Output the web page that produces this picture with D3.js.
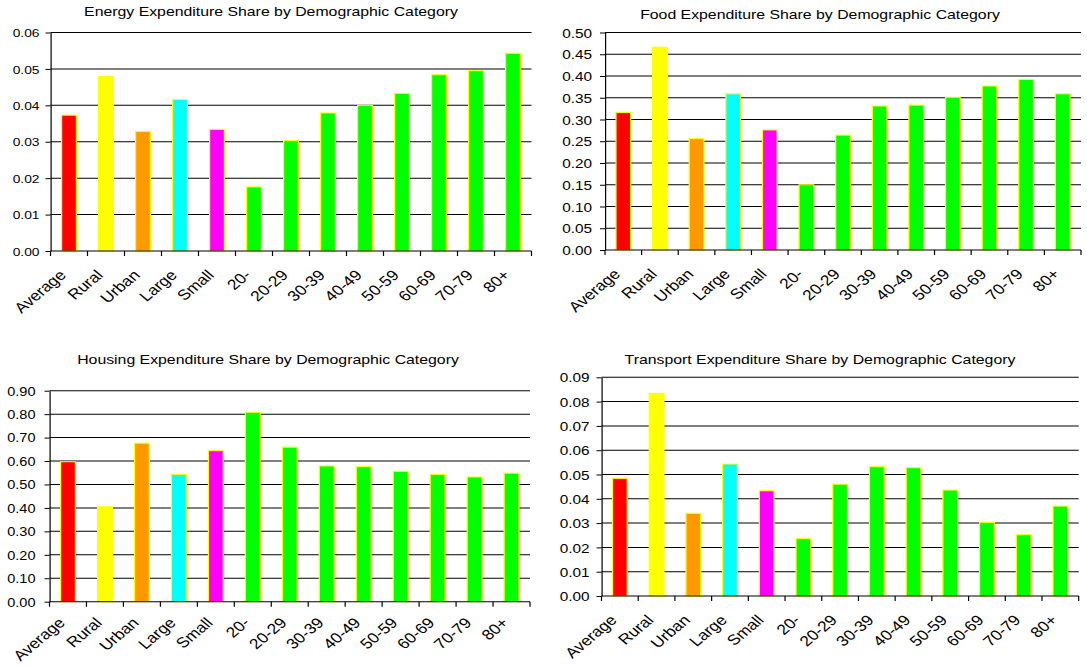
<!DOCTYPE html>
<html>
<head>
<meta charset="utf-8">
<script src="https://cdn.jsdelivr.net/npm/d3@7"></script>
<style>
  html, body { margin: 0; padding: 0; background: #fff; }
  svg { display: block; font-family: "Liberation Sans", Arial, sans-serif; }
</style>
</head>
<body>
<svg id="chart" width="1087" height="667"></svg>
<script>
// Demographic categories shared by all four panels
const categories = ["Average", "Rural", "Urban", "Large", "Small", "20-", "20-29",
                    "30-39", "40-49", "50-59", "60-69", "70-79", "80+"];

// Expenditure shares per category
const energyShare    = [0.0373, 0.0479, 0.0328, 0.0416, 0.0334, 0.0176, 0.0303,
                        0.0379, 0.0400, 0.0433, 0.0484, 0.0495, 0.0543];
const foodShare      = [0.316, 0.466, 0.256, 0.359, 0.276, 0.150, 0.264,
                        0.331, 0.333, 0.351, 0.377, 0.392, 0.359];
const housingShare   = [0.597, 0.405, 0.676, 0.543, 0.644, 0.808, 0.659,
                        0.579, 0.576, 0.556, 0.543, 0.532, 0.548];
const transportShare = [0.0484, 0.0834, 0.0340, 0.0543, 0.0433, 0.0236, 0.0460,
                        0.0532, 0.0528, 0.0436, 0.0303, 0.0252, 0.0370];

// Value-axis ticks
const energyTicks    = [0, 0.01, 0.02, 0.03, 0.04, 0.05, 0.06];
const foodTicks      = [0, 0.05, 0.10, 0.15, 0.20, 0.25, 0.30, 0.35, 0.40, 0.45, 0.50];
const housingTicks   = [0, 0.10, 0.20, 0.30, 0.40, 0.50, 0.60, 0.70, 0.80, 0.90];
const transportTicks = [0, 0.01, 0.02, 0.03, 0.04, 0.05, 0.06, 0.07, 0.08, 0.09];

// Fill colour per category (average, rural, urban, large, small, age groups)
const barColors = ["#ff0000", "#ffff00", "#ff9900", "#00ffff", "#ff00ff",
                   "#00ff00", "#00ff00", "#00ff00", "#00ff00", "#00ff00",
                   "#00ff00", "#00ff00", "#00ff00"];

// The whole sheet is drawn with a horizontal stretch (wide rendering).
const S = 1.2;
const svg = d3.select("#chart");
const root = svg.append("g").attr("transform", `scale(${S},1)`);
const sx = v => v / S;

function drawPanel(p) {
  const g = root.append("g");
  const x = d3.scaleBand().domain(categories).range([sx(p.x0), sx(p.x1)]).padding(0);
  const y = d3.scaleLinear().domain([0, d3.max(p.ticks)]).range([p.yBot, p.yTop]);
  const bw = x.bandwidth();
  const X0 = sx(p.x0), X1 = sx(p.x1);

  // horizontal gridlines
  g.selectAll("line.grid").data(p.ticks.filter(t => t > 0)).join("line")
    .attr("x1", X0).attr("x2", X1)
    .attr("y1", d => y(d)).attr("y2", d => y(d))
    .attr("stroke", "#000").attr("stroke-width", 1);

  // bars
  g.selectAll("rect.bar").data(p.values).join("rect")
    .attr("x", (d, i) => x(categories[i]) + bw * 0.3)
    .attr("width", bw * 0.4)
    .attr("y", d => y(d))
    .attr("height", d => y(0) - y(d))
    .attr("fill", (d, i) => barColors[i])
    .attr("stroke", "#ffff00").attr("stroke-width", 1);

  // value axis
  const yAxis = d3.axisLeft(y).tickValues(p.ticks).tickFormat(d3.format(".2f"))
    .tickSize(sx(5)).tickSizeOuter(0);
  const ya = g.append("g").attr("transform", `translate(${X0},0)`).call(yAxis);
  ya.select(".domain").attr("stroke", "#000");
  ya.selectAll(".tick line").attr("stroke", "#000");
  ya.selectAll(".tick text")
    .attr("x", -sx(p.labelGap)).attr("dy", "0.36em")
    .attr("font-size", p.tickFont).attr("fill", "#000")
    .attr("font-family", "Liberation Sans, Arial, sans-serif");

  // category axis: baseline and boundary ticks
  g.append("line")
    .attr("x1", X0).attr("x2", X1).attr("y1", y(0)).attr("y2", y(0))
    .attr("stroke", "#000");
  const bounds = categories.map(c => x(c)).concat([X1]);
  g.selectAll("line.xt").data(bounds).join("line")
    .attr("x1", d => d).attr("x2", d => d)
    .attr("y1", y(0)).attr("y2", y(0) + 5)
    .attr("stroke", "#000");

  // rotated category labels
  g.selectAll("text.cat").data(categories).join("text")
    .attr("text-anchor", "end")
    .attr("font-size", p.catFont)
    .attr("transform", c =>
      `translate(${x(c) + bw / 2 - sx(2)},${y(0) + p.catDrop}) rotate(-45)`)
    .text(c => c);

  // title
  g.append("text")
    .attr("text-anchor", "middle")
    .attr("font-size", 13.2)
    .attr("x", sx(p.titleX)).attr("y", p.titleY)
    .text(p.title);
}

drawPanel({
  title: "Energy Expenditure Share by Demographic Category",
  values: energyShare, ticks: energyTicks,
  x0: 50.5, x1: 531.5, yTop: 32.5, yBot: 251,
  titleX: 271, titleY: 16, tickFont: 11.5, labelGap: 11, catFont: 14.5, catDrop: 25
});
drawPanel({
  title: "Food Expenditure Share by Demographic Category",
  values: foodShare, ticks: foodTicks,
  x0: 605, x1: 1081, yTop: 32.5, yBot: 250,
  titleX: 820, titleY: 19, tickFont: 12.8, labelGap: 13, catFont: 14.5, catDrop: 25
});
drawPanel({
  title: "Housing Expenditure Share by Demographic Category",
  values: housingShare, ticks: housingTicks,
  x0: 49.5, x1: 530, yTop: 390.7, yBot: 601.7,
  titleX: 268, titleY: 364, tickFont: 12.1, labelGap: 14, catFont: 14.5, catDrop: 22
});
drawPanel({
  title: "Transport Expenditure Share by Demographic Category",
  values: transportShare, ticks: transportTicks,
  x0: 601.5, x1: 1078.7, yTop: 377.3, yBot: 596,
  titleX: 820, titleY: 364, tickFont: 12.8, labelGap: 12, catFont: 14.5, catDrop: 25
});
</script>
</body>
</html>
